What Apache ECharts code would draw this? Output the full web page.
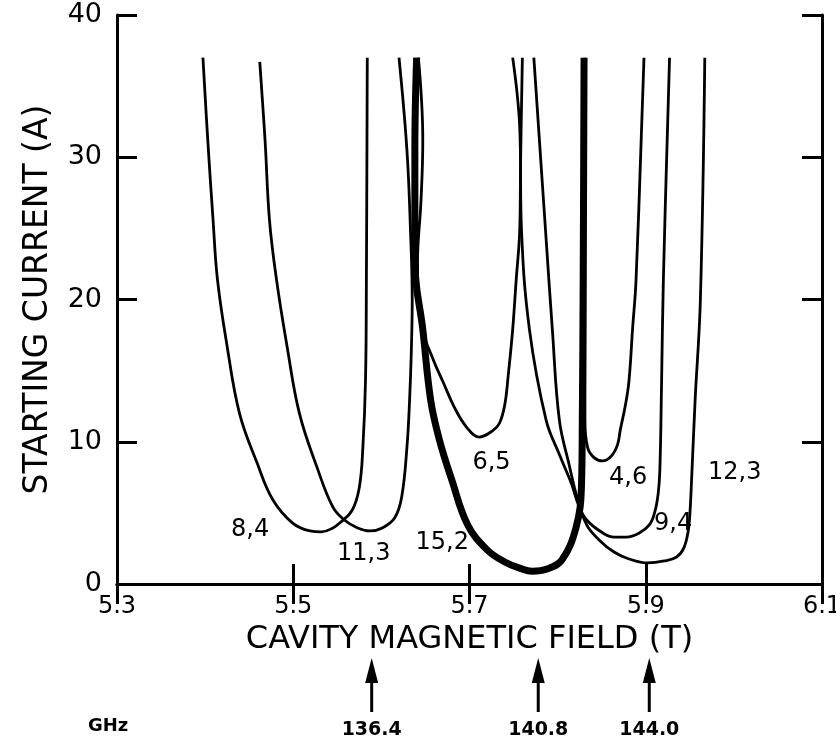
<!DOCTYPE html>
<html>
<head>
<meta charset="utf-8">
<script src="https://cdn.jsdelivr.net/npm/echarts@6/dist/echarts.min.js"></script>
<style>
  html, body { margin: 0; padding: 0; background: #fff; }
  #chart { width: 836px; height: 740px; }
</style>
</head>
<body>
<div id="chart"></div>
<script>
// starting current (A) vs cavity magnetic field (T), one trace per TE mode
var mode84 = [[5.3975,37.0],[5.403,31.2],[5.409,25.6],[5.414,21.4],[5.425,16.7],[5.439,12.0],[5.459,8.5],[5.477,5.9],[5.499,4.3],[5.519,3.73],[5.532,3.66],[5.545,3.94],[5.553,4.3],[5.567,5.2],[5.575,6.8],[5.579,9.6],[5.582,14.3],[5.583,21.4],[5.584,37.0]];
var mode113 = [[5.462,36.7],[5.468,31.2],[5.473,25.6],[5.481,21.4],[5.493,16.7],[5.507,12.0],[5.527,8.2],[5.545,5.4],[5.558,4.5],[5.573,3.94],[5.587,3.73],[5.601,3.94],[5.615,4.64],[5.623,6.1],[5.629,9.6],[5.632,12.9],[5.634,16.4],[5.635,20.0],[5.633,24.9],[5.629,30.5],[5.620,37.0]];
var mode65 = [[5.642,37.0],[5.647,31.2],[5.645,27.0],[5.641,22.6],[5.647,17.9],[5.659,15.75],[5.670,14.2],[5.683,12.4],[5.697,11.0],[5.711,10.33],[5.726,10.76],[5.734,11.3],[5.740,12.6],[5.744,14.7],[5.749,17.9],[5.753,21.4],[5.757,24.9],[5.758,29.8],[5.760,37.0]];
var mode152 = [[5.640,37.0],[5.638,30.5],[5.638,22.6],[5.647,17.9],[5.656,12.9],[5.666,10.1],[5.680,7.3],[5.698,4.15],[5.720,2.4],[5.740,1.55],[5.757,1.12],[5.771,0.9],[5.788,1.05],[5.805,1.7],[5.821,4.0],[5.827,6.8],[5.828,11.5],[5.829,21.4],[5.830,37.0]];
var mode46 = [[5.831,37.0],[5.831,21.4],[5.831,11.5],[5.834,9.6],[5.841,8.9],[5.851,8.65],[5.861,9.0],[5.868,9.8],[5.871,10.8],[5.877,12.6],[5.881,14.3],[5.885,17.9],[5.889,21.4],[5.898,37.0]];
var mode94 = [[5.749,37.0],[5.757,32.1],[5.759,24.9],[5.768,17.9],[5.787,11.5],[5.802,9.1],[5.816,7.0],[5.824,5.5],[5.833,4.5],[5.851,3.6],[5.864,3.3],[5.878,3.3],[5.893,3.6],[5.904,4.15],[5.910,5.0],[5.914,6.3],[5.916,8.0],[5.918,14.3],[5.920,21.4],[5.927,37.0]];
var mode123 = [[5.773,37.0],[5.787,24.2],[5.794,17.9],[5.802,11.5],[5.813,8.4],[5.822,6.1],[5.833,4.15],[5.847,3.1],[5.864,2.25],[5.881,1.76],[5.902,1.48],[5.921,1.62],[5.935,1.9],[5.943,2.5],[5.948,3.66],[5.950,4.85],[5.952,7.3],[5.956,12.9],[5.962,20.0],[5.967,37.0]];

var modeNames = ['8,4', '11,3', '6,5', '15,2', '4,6', '9,4', '12,3'];
var modeData = [mode84, mode113, mode65, mode152, mode46, mode94, mode123];
var labelText = ['8,4', '11,3', '15,2', '6,5', '4,6', '9,4', '12,3'];
var labelX = [5.451, 5.580, 5.669, 5.725, 5.880, 5.931, 6.001];
var labelY = [3.8, 2.1, 2.9, 8.5, 7.45, 4.2, 7.8];

// frequencies marked under the field axis
var freqField = [5.589, 5.778, 5.904];
var freqLabel = ['136.4', '140.8', '144.0'];

var FONT = 'DejaVu Sans';
var INK = '#000';

var chart = echarts.init(document.getElementById('chart'));

var series = modeData.map(function(d, i) {
  return {
    name: modeNames[i], type: 'line', data: d,
    smooth: 0.4, showSymbol: false, symbol: 'none',
    lineStyle: { color: INK, width: modeNames[i] === '15,2' ? 7 : 2.8 },
    z: 3
  };
});
series.push({
  type: 'scatter', symbolSize: 0, silent: true,
  data: labelText.map(function(t, i) { return { name: t, value: [labelX[i], labelY[i]] }; }),
  label: { show: true, position: 'inside', formatter: '{b}', color: INK, opacity: 1,
    textBorderWidth: 0, fontFamily: FONT, fontSize: 24 },
  z: 5
});

var axisLine = { show: true, lineStyle: { color: INK, width: 3 } };
var tick = { show: true, inside: true, length: 20, lineStyle: { color: INK, width: 3 } };

chart.setOption({
  backgroundColor: '#fff',
  animation: false,
  grid: { left: 117, right: 14, top: 15, bottom: 156, outerBoundsMode: 'none', containLabel: false },
  xAxis: [{
    type: 'value', min: 5.3, max: 6.1, interval: 0.2, position: 'bottom',
    axisLine: axisLine, axisTick: tick, splitLine: { show: false },
    axisLabel: { color: INK, fontFamily: FONT, fontSize: 24, margin: 11,
      formatter: function(v) { return v.toFixed(1); } },
    name: 'CAVITY MAGNETIC FIELD (T)', nameLocation: 'middle', nameGap: 38,
    nameTextStyle: { color: INK, fontFamily: FONT, fontSize: 32 }
  }, {
    type: 'value', min: 5.3, max: 6.1, interval: 0.2, position: 'top',
    axisLine: axisLine, axisTick: tick, axisLabel: { show: false }, splitLine: { show: false }
  }],
  yAxis: [{
    type: 'value', min: 0, max: 40, interval: 10, position: 'left',
    axisLine: axisLine, axisTick: tick, splitLine: { show: false },
    axisLabel: { color: INK, fontFamily: FONT, fontSize: 27, margin: 15 },
    name: 'STARTING CURRENT (A)', nameLocation: 'middle', nameGap: 62, nameRotate: 90,
    nameTextStyle: { color: INK, fontFamily: FONT, fontSize: 33 }
  }, {
    type: 'value', min: 0, max: 40, interval: 10, position: 'right',
    axisLine: axisLine, axisTick: tick, axisLabel: { show: false }, splitLine: { show: false }
  }],
  series: series
});

// arrows + frequency labels placed through the x scale
var graphics = [{
  type: 'text', left: 88, top: 717,
  style: { text: 'GHz', fill: INK, font: 'bold 18px "DejaVu Sans"' }
}];
freqField.forEach(function(f, i) {
  var x = chart.convertToPixel({ xAxisIndex: 0 }, f);
  graphics.push({
    type: 'line', shape: { x1: x, y1: 712, x2: x, y2: 675 },
    style: { stroke: INK, lineWidth: 3 }
  });
  graphics.push({
    type: 'polygon', shape: { points: [[x, 658], [x - 6.5, 683], [x + 6.5, 683]] },
    style: { fill: INK }
  });
  graphics.push({
    type: 'text', x: x, y: 730,
    style: { text: freqLabel[i], fill: INK, font: 'bold 19px "DejaVu Sans"', align: 'center', verticalAlign: 'middle' }
  });
});
chart.setOption({ graphic: graphics });
</script>
</body>
</html>
